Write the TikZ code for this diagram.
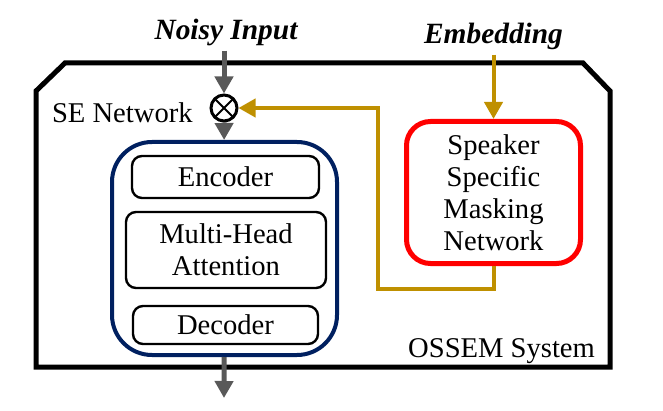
\documentclass[tikz,border=0pt]{standalone}
\usepackage{fontspec}
\setmainfont{Liberation Serif}
\usetikzlibrary{arrows.meta}
\definecolor{seblue}{RGB}{0,32,96}
\definecolor{embgold}{RGB}{191,144,0}
\definecolor{arrgray}{RGB}{89,89,89}
\begin{document}
\begin{tikzpicture}[x = 0.5pt, y = -0.5pt]
    \tikzstyle{every node} = [font = \rmfamily\fontsize{14.3}{16}\selectfont];
    \tikzstyle{label} = [inner sep = 2pt, font = \rmfamily\fontsize{14.7}{16}\selectfont\bfseries\itshape];
    \tikzstyle{block} = [draw, rounded corners = 5pt, line width = 1.2pt, align = center];
    \tikzstyle{grayarrow} = [draw = arrgray, line width = 2.5pt, -{Triangle[length = 8.5pt, width = 9pt]}];
    \tikzstyle{goldarrow} = [draw = embgold, line width = 2pt, -{Triangle[length = 8.5pt, width = 9pt]}];
    \useasboundingbox (0,0) rectangle (663,411);
    % system:
    \draw[line width = 2.5pt] (65,63) -- (583,63) -- (610,91) -- (610,367) -- (36,367) -- (36,91) -- cycle;
    \node[anchor = west] (sel) at (45,113){SE Network};
    \node[anchor = base east] (osl) at (602,357){OSSEM System};
    % inputs:
    \node[label, anchor = base] (ni) at (226,40){Noisy Input};
    \node[label, anchor = base] (emb) at (493.5,44){Embedding};
    \coordinate (out) at (224,398);
    \coordinate (fb) at (378,289);
    % blocks:
    \node[draw, circle, line width = 1.5pt, minimum size = 13pt, inner sep = 0pt,
      path picture = {\draw[line width = 1pt] (path picture bounding box.south west) -- (path picture bounding box.north east)
        (path picture bounding box.north west) -- (path picture bounding box.south east);}] (mul) at (224,108){};
    \node[draw = seblue, line width = 2pt, rounded corners = 20pt, minimum width = 112.5pt, minimum height = 106.5pt] (se) at (224.5,248.5){};
    \node[block, minimum width = 93.5pt, minimum height = 21pt] (enc) at (225.5,177){Encoder};
    \node[block, minimum width = 100pt, minimum height = 38pt] (mha) at (226,250){Multi-Head\\Attention};
    \node[block, minimum width = 92.5pt, minimum height = 19pt] (dec) at (225.5,325){Decoder};
    \node[draw = red, line width = 2.5pt, rounded corners = 12pt, align = center, minimum width = 87pt, minimum height = 71pt] (ssm) at (493.5,192.5){Speaker\\Specific\\Masking\\Network};
    % lines:
    \draw[grayarrow] (ni.south -| mul) -- (mul);
    \draw[grayarrow] (mul) -- (se);
    \draw[grayarrow] (se) -- (out);
    \draw[goldarrow] (emb) -- (ssm);
    \draw[goldarrow] (ssm.south) |- (fb) |- (mul);
  \end{tikzpicture}
\end{document}
